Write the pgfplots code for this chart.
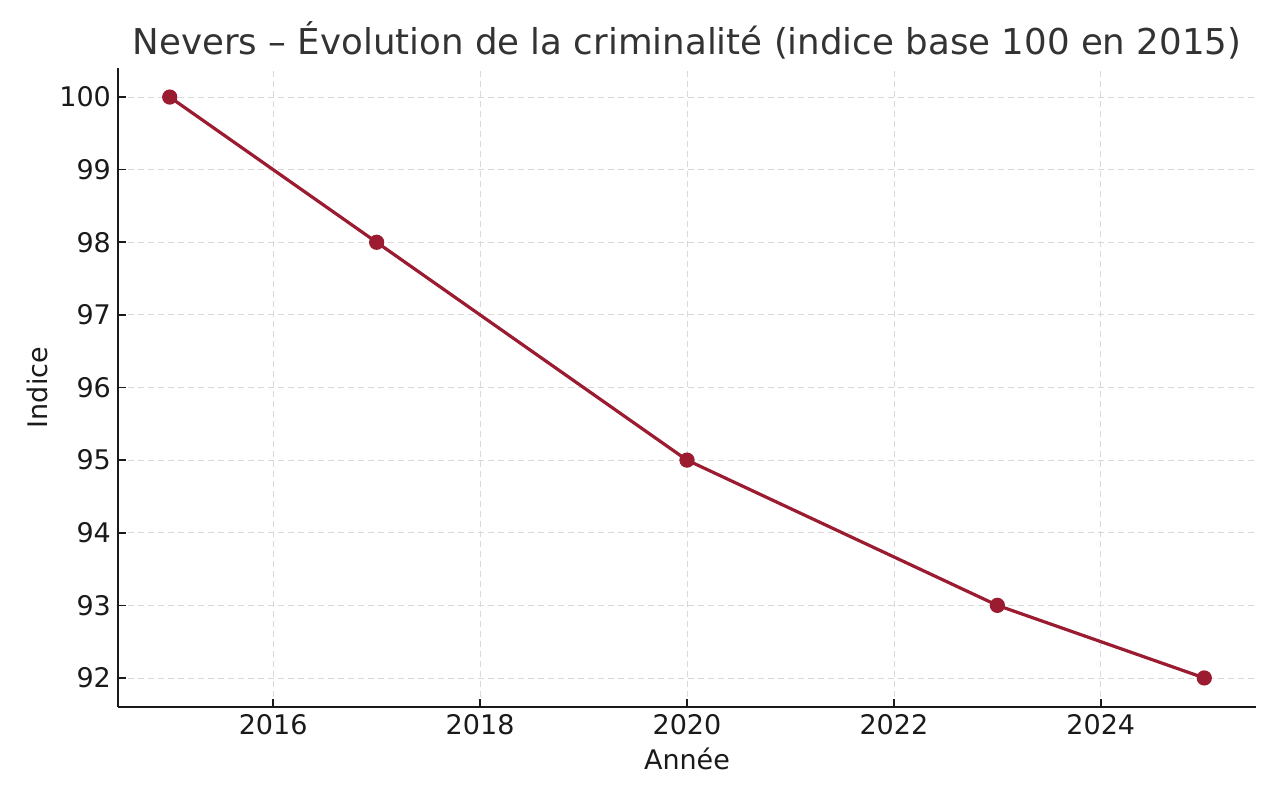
\documentclass[border=0pt]{standalone}
\usepackage{fontspec}
\setmainfont{DejaVu Sans}
\usepackage{pgfplots}
\pgfplotsset{compat=1.18}
\definecolor{lineRed}{HTML}{9B1B30}
\definecolor{titleGray}{HTML}{333333}
\definecolor{txt}{HTML}{1A1A1A}
\begin{document}
\begin{tikzpicture}
\begin{axis}[
    name=ax,
    scale only axis,
    width=569pt, height=319.5pt,
    xmin=2014.5, xmax=2025.5,
    ymin=91.6, ymax=100.4,
    xtick={2016,2018,2020,2022,2024},
    ytick={92,93,94,95,96,97,98,99,100},
    axis lines*=left,
    axis line style={line width=0.9pt, color=txt},
    tick style={line width=0.8pt, color=txt},
    tick align=inside,
    major tick length=4pt,
    grid=major,
    major grid style={dash pattern=on 3pt off 2pt, line width=0.4pt, color=gray!30},
    ticklabel style={font=\fontsize{13.5}{15}\selectfont, color=txt},
    /pgf/number format/assume math mode=true,
    /pgf/number format/1000 sep={},
    xlabel={Année},
    ylabel={Indice},
    label style={font=\fontsize{13.5}{15}\selectfont, color=txt},
    xlabel style={yshift=0pt},
    ylabel style={yshift=-1pt},
    title={Nevers – Évolution de la criminalité (indice base 100 en 2015)},
    title style={font=\fontsize{17.8}{20}\selectfont, color=titleGray, yshift=-5pt},
]
\addplot[color=lineRed, line width=1.6pt, mark=*, mark size=3pt,
    mark options={fill=lineRed, draw=lineRed}] coordinates {
    (2015, 100)
    (2017, 98)
    (2020, 95)
    (2023, 93)
    (2025, 92)
};
\end{axis}
\path ([xshift=-59pt,yshift=-46.5pt]ax.south west) rectangle ([xshift=12pt,yshift=34pt]ax.north east);
\end{tikzpicture}
\end{document}
